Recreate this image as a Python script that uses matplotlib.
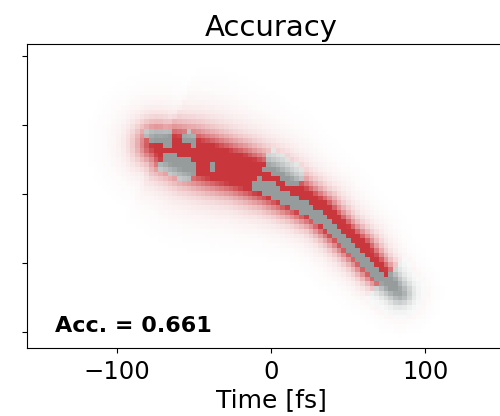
import numpy as np
import matplotlib
matplotlib.use("Agg")
import matplotlib.pyplot as plt
from matplotlib.colors import to_rgb

# Ridge of the retrieved trace: centre line (time in fs, frequency in a.u.)
ridge_t = [-73.6, -68.9, -52.6, -39.7, -20.4, -0.8, 18.6, 31.5, 46.4, 57.4, 68.4, 76.5, 83.3]
ridge_f = [0.716, 0.665, 0.549, 0.462, 0.332, 0.158, -0.088, -0.262, -0.581, -0.813, -1.103, -1.280, -1.436]
ridge_peak = [0.7, 0.85, 1.0, 1.0, 1.0, 1.0, 0.95, 0.95, 0.9, 0.9, 0.85, 0.75, 0.6]
ridge_width = [13, 15, 16, 16, 15, 14, 12, 11, 10, 10, 9, 8.5, 8]

# Misclassified zones: (t_lo, t_hi, u_lo, u_hi), u = offset across ridge (+ = upper side)
miss_zones = [
    (-80, -66, 0.05, 0.8),
    (-60, -52, 0.4, 0.95),
    (-68, -47, -1.0, -0.15),
    (-39, -36, -0.3, -0.05),
    (-8, 14, 0.35, 1.4),
    (-10, 92, -0.6, 0.05),
    (74, 100, -2.0, 2.0),
]

accuracy = 0.661
x_ticks = [-100, 0, 100]
y_ticks = [-2, -1, 0, 1, 2]
x_lim = (-158, 158)
y_lim = (-2.233, 2.172)

fig = plt.figure(figsize=(5.0, 4.16), dpi=100)
ax = fig.add_axes([0.054, 0.1635, 0.976, 0.731])

# sampling grid of the trace
nt, nf = 104, 64
t_edges = np.linspace(x_lim[0], x_lim[1], nt + 1)
f_edges = np.linspace(y_lim[0], y_lim[1], nf + 1)
tc = 0.5 * (t_edges[:-1] + t_edges[1:])
fc = 0.5 * (f_edges[:-1] + f_edges[1:])
T, F = np.meshgrid(tc, fc)

# work in screen-like units so distances are isotropic
sx, sy = 1.5465, 1.0 / 0.01449
QX, QY = T * sx, F * sy
PX = np.array(ridge_t) * sx
PY = np.array(ridge_f) * sy
peak = np.array(ridge_peak)
wid = np.array(ridge_width, float)

best_d = np.full(T.shape, np.inf)
signed = np.zeros(T.shape)
t_near = np.zeros(T.shape)
pk_near = np.zeros(T.shape)
w_near = np.ones(T.shape)
for i in range(len(PX) - 1):
    ax_, ay_ = PX[i], PY[i]
    dx, dy = PX[i + 1] - ax_, PY[i + 1] - ay_
    L2 = dx * dx + dy * dy
    u = np.clip(((QX - ax_) * dx + (QY - ay_) * dy) / L2, 0, 1)
    cx, cy = ax_ + u * dx, ay_ + u * dy
    d = np.hypot(QX - cx, QY - cy)
    cross = dx * (QY - ay_) - dy * (QX - ax_)
    m = d < best_d
    best_d[m] = d[m]
    signed[m] = np.sign(cross[m]) * d[m]
    t_near[m] = (ridge_t[i] + u * (ridge_t[i + 1] - ridge_t[i]))[m]
    pk_near[m] = (peak[i] + u * (peak[i + 1] - peak[i]))[m]
    w_near[m] = (wid[i] + u * (wid[i + 1] - wid[i]))[m]

core = np.exp(-0.5 * (best_d / w_near) ** 2)
halo = np.exp(-0.5 * (best_d / (2.0 * w_near)) ** 2)
alpha = np.clip(pk_near * (1.3 * core + 0.25 * halo), 0, 1)
uu = signed / (1.6 * w_near)

wrong = np.zeros(T.shape, bool)
for t0, t1, u0, u1 in miss_zones:
    wrong |= (t_near >= t0) & (t_near <= t1) & (uu >= u0) & (uu <= u1)

red = np.array(to_rgb("#c9363b"))
grey = np.array(to_rgb("#969c9c"))
rgba = np.zeros(T.shape + (4,))
rgba[..., :3] = np.where(wrong[..., None], grey, red)
rgba[..., 3] = alpha

ax.imshow(rgba, origin="lower", extent=(x_lim[0], x_lim[1], y_lim[0], y_lim[1]),
          aspect="auto", interpolation="nearest")

ax.set_xlim(*x_lim)
ax.set_ylim(*y_lim)
ax.set_xticks(x_ticks)
ax.set_xticklabels(["\u2212100", "0", "100"])
ax.set_yticks(y_ticks)
ax.set_yticklabels([])
ax.tick_params(axis="x", labelsize=17.5, pad=5)
ax.set_xlabel("Time [fs]", fontsize=18, labelpad=3)
ax.set_title("Accuracy", fontsize=21)
ax.text(0.057, 0.053, f"Acc. = {accuracy:.3f}", transform=ax.transAxes,
        fontsize=16, fontweight="bold", va="baseline", ha="left")

fig.savefig("out.png", dpi=100)
